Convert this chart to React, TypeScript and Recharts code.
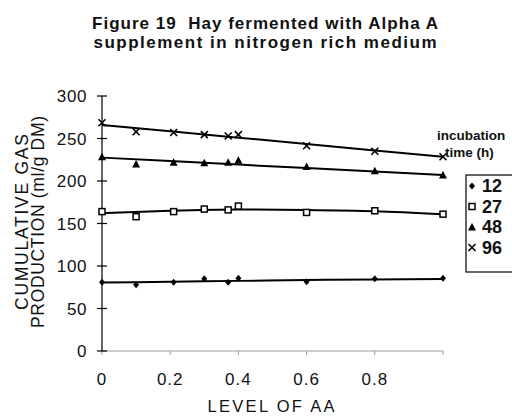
import { ComposedChart, Line, Scatter, XAxis, YAxis } from "recharts";

const levels = [0, 0.1, 0.21, 0.3, 0.37, 0.4, 0.6, 0.8, 1.0];
const gas12 = [81, 78, 81, 85, 81, 85.5, 81.5, 85, 85.5];
const gas27 = [164, 158, 164, 167, 166, 170.5, 163, 165, 161];
const gas48 = [228.5, 220, 222, 221.5, 222, 224.5, 217, 212, 207];
const gas96 = [268.5, 258, 257, 254.5, 253, 254.5, 241.5, 235, 228.5];

// fitted trend lines
const trendLevels = [0, 0.2, 0.4, 0.6, 0.8, 1.0];
const trend12 = [80.5, 81.5, 82.5, 83.5, 84.2, 84.8];
const trend27 = [162, 165, 166.5, 166, 164.5, 161];
const trend48 = [227.5, 223.4, 219.3, 215.2, 211.1, 207];
const trend96 = [266, 258.5, 251, 243.5, 236, 228.5];

const yTicks = [0, 50, 100, 150, 200, 250, 300];
const xTicks = [0, 0.2, 0.4, 0.6, 0.8, 1.0];
const incubationTimes = ["12", "27", "48", "96"];

const FONT = "Arial, 'Liberation Sans', sans-serif";

const toPoints = (ys: number[]) => levels.map((x, i) => ({ x, y: ys[i] }));
const toTrend = (ys: number[]) => trendLevels.map((x, i) => ({ x, y: ys[i] }));

const Diamond = ({ cx, cy }: any) => (
  <polygon points={`${cx},${cy - 3.5} ${cx + 3},${cy} ${cx},${cy + 3.5} ${cx - 3},${cy}`} fill="#000" />
);
const Square = ({ cx, cy }: any) => (
  <rect x={cx - 3} y={cy - 3} width={6} height={6} fill="#fff" stroke="#000" strokeWidth={1.5} />
);
const Triangle = ({ cx, cy }: any) => (
  <polygon points={`${cx},${cy - 4} ${cx + 4},${cy + 3.5} ${cx - 4},${cy + 3.5}`} fill="#000" />
);
const Cross = ({ cx, cy }: any) => (
  <g stroke="#000" strokeWidth={1.6}>
    <line x1={cx - 3.5} y1={cy - 3.5} x2={cx + 3.5} y2={cy + 3.5} />
    <line x1={cx - 3.5} y1={cy + 3.5} x2={cx + 3.5} y2={cy - 3.5} />
  </g>
);

const shapes = [Diamond, Square, Triangle, Cross];

const TICK_SIZE = 5;
const TICK_MARGIN = 11;

const YTick = ({ x, y, payload }: any) => {
  const axisX = x + TICK_SIZE + TICK_MARGIN;
  return (
    <g>
      <line x1={axisX} y1={y} x2={axisX + 5} y2={y} stroke="#000" strokeWidth={1.2} />
      <text x={x + 1} y={y} dy="0.36em" textAnchor="end" fontSize={17} letterSpacing={0.6} fontFamily={FONT} fill="#111">
        {payload.value}
      </text>
    </g>
  );
};

export default function App() {
  return (
    <div style={{ position: "absolute", left: 0, top: 0, width: 512, height: 418, background: "#fff" }}>
      <ComposedChart width={512} height={418} margin={{ top: 96, right: 69, bottom: 27, left: 0 }}>
        <XAxis
          dataKey="x"
          type="number"
          domain={[0, 1]}
          ticks={xTicks}
          tickFormatter={(v: number) => (v === 1 ? "" : String(v))}
          stroke="#9a9a9a"
          tickSize={4}
          tickMargin={18}
          height={40}
          tick={{ fontSize: 17, fontFamily: FONT, fill: "#111", letterSpacing: 1 }}
        />
        <YAxis
          type="number"
          domain={[0, 300]}
          ticks={yTicks}
          width={102}
          stroke="#000"
          strokeWidth={1.2}
          tickSize={TICK_SIZE}
          tickMargin={TICK_MARGIN}
          tick={YTick}
        />
        <Line data={toTrend(trend12)} dataKey="y" type="monotone" stroke="#000" strokeWidth={2} dot={false} isAnimationActive={false} />
        <Line data={toTrend(trend27)} dataKey="y" type="monotone" stroke="#000" strokeWidth={2} dot={false} isAnimationActive={false} />
        <Line data={toTrend(trend48)} dataKey="y" type="linear" stroke="#000" strokeWidth={2} dot={false} isAnimationActive={false} />
        <Line data={toTrend(trend96)} dataKey="y" type="linear" stroke="#000" strokeWidth={2} dot={false} isAnimationActive={false} />
        <Scatter data={toPoints(gas12)} dataKey="y" shape={Diamond} isAnimationActive={false} />
        <Scatter data={toPoints(gas27)} dataKey="y" shape={Square} isAnimationActive={false} />
        <Scatter data={toPoints(gas48)} dataKey="y" shape={Triangle} isAnimationActive={false} />
        <Scatter data={toPoints(gas96)} dataKey="y" shape={Cross} isAnimationActive={false} />
      </ComposedChart>

      <svg width={512} height={418} style={{ position: "absolute", left: 0, top: 0, pointerEvents: "none" }} fontFamily={FONT} fill="#111">
        <text x={265} y={29} textAnchor="middle" fontSize={17} fontWeight="bold" textLength={346} lengthAdjust="spacing" style={{ whiteSpace: "pre" }}>
          Figure 19  Hay fermented with Alpha A
        </text>
        <text x={265} y={48} textAnchor="middle" fontSize={17} fontWeight="bold" textLength={343} lengthAdjust="spacing">
          supplement in nitrogen rich medium
        </text>
        <text transform="translate(28,222) rotate(-90)" textAnchor="middle" fontSize={17.5} textLength={176} lengthAdjust="spacing">
          CUMULATIVE GAS
        </text>
        <text transform="translate(44,222) rotate(-90)" textAnchor="middle" fontSize={17.5} textLength={212} lengthAdjust="spacing">
          PRODUCTION (ml/g DM)
        </text>
        <text x={271} y={412} textAnchor="middle" fontSize={16.5} textLength={127} lengthAdjust="spacing">
          LEVEL OF AA
        </text>
        <text x={437} y={140} fontSize={13.5} fontWeight="bold">incubation</text>
        <text x={445} y={157} fontSize={13.5} fontWeight="bold">time (h)</text>
        <rect x={466} y={175} width={60} height={97} fill="#fff" stroke="#000" strokeWidth={1.2} />
        {incubationTimes.map((t, i) => {
          const Shape = shapes[i];
          const cy = 186 + i * 20.5;
          return (
            <g key={t}>
              <Shape cx={472} cy={cy} />
              <text x={482} y={cy} dy="0.36em" fontSize={18} fontWeight="bold">{t}</text>
            </g>
          );
        })}
      </svg>
    </div>
  );
}
